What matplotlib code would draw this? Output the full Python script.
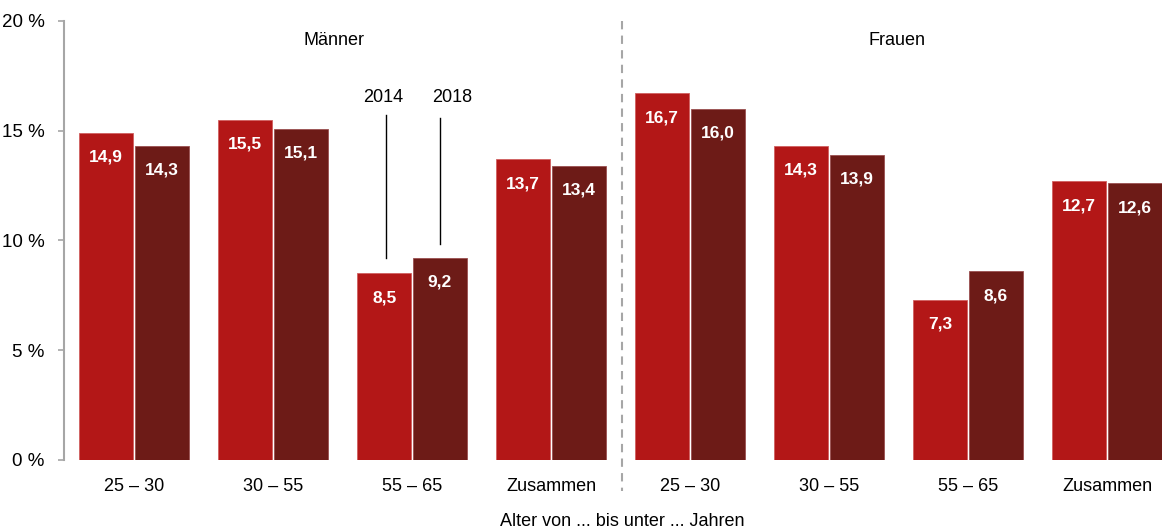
import matplotlib
matplotlib.use("Agg")
import matplotlib.pyplot as plt
import numpy as np

# ---------------------------------------------------------------------------
# Data
# ---------------------------------------------------------------------------
categories = ["25 – 30", "30 – 55", "55 – 65", "Zusammen",
              "25 – 30", "30 – 55", "55 – 65", "Zusammen"]
values_2014 = [14.9, 15.5, 8.5, 13.7, 16.7, 14.3, 7.3, 12.7]
values_2018 = [14.3, 15.1, 9.2, 13.4, 16.0, 13.9, 8.6, 12.6]
yticks = [0, 5, 10, 15, 20]
ytick_labels = ["0 %", "5 %", "10 %", "15 %", "20 %"]
group_titles = ["Männer", "Frauen"]
year_labels = ["2014", "2018"]

COLOR_2014 = "#B31717"
COLOR_2018 = "#6D1B17"
BAR_WIDTH = 0.39
OFFSET = 0.2

plt.rcParams["font.family"] = ["Liberation Sans", "DejaVu Sans"]

fig = plt.figure(figsize=(11.62, 5.32), dpi=100)
ax = fig.add_axes([64 / 1162, 72 / 532, 1 - 64 / 1162, 439 / 532])

x = np.arange(len(categories))
b1 = ax.bar(x - OFFSET, values_2014, width=BAR_WIDTH, color=COLOR_2014,
            edgecolor="#D06060", linewidth=0.6, zorder=2)
b2 = ax.bar(x + OFFSET, values_2018, width=BAR_WIDTH, color=COLOR_2018,
            edgecolor="#9A5050", linewidth=0.6, zorder=2)

# value labels inside the bars
for bars, vals in ((b1, values_2014), (b2, values_2018)):
    for rect, v in zip(bars, vals):
        ax.annotate(f"{v:.1f}".replace(".", ","),
                    (rect.get_x() + rect.get_width() / 2, v),
                    xytext=(0, -17.5), textcoords="offset points",
                    ha="center", va="center", color="white",
                    fontsize=12.5, fontweight="bold", zorder=3)

ax.set_xlim(-0.504, 7.396)
ax.set_ylim(0, 20)
ax.set_xticks(x)
ax.set_xticklabels(categories, fontsize=13)
ax.set_yticks(yticks)
ax.set_yticklabels(ytick_labels, fontsize=13.5)
ax.tick_params(axis="x", length=0, pad=13)
ax.tick_params(axis="y", length=4, width=1.2, color="#A6A6A6", pad=10)

for s in ("top", "right", "bottom"):
    ax.spines[s].set_visible(False)
ax.spines["left"].set_color("#A6A6A6")
ax.spines["left"].set_linewidth(1.5)

# divider between Männer and Frauen
ax.plot([3.51, 3.51], [20, -1.4], color="#A6A6A6", linestyle=(0, (4, 3)),
        linewidth=1.5, clip_on=False, zorder=1)

# group titles
ax.text(1.44, 19.1, group_titles[0], ha="center", va="center", fontsize=13)
ax.text(5.49, 19.1, group_titles[1], ha="center", va="center", fontsize=13)

# year callouts above the 55 – 65 Männer group
ax.text(2 - OFFSET - 0.01, 16.5, year_labels[0], ha="center", va="center",
        fontsize=13)
ax.text(2 + OFFSET + 0.09, 16.5, year_labels[1], ha="center", va="center",
        fontsize=13)
ax.plot([2 - OFFSET + 0.01] * 2, [values_2014[2] + 0.7, 15.7],
        color="black", linewidth=1.0, zorder=3)
ax.plot([2 + OFFSET] * 2, [values_2018[2] + 0.65, 15.6],
        color="black", linewidth=1.0, zorder=3)

fig.text(622 / 1162, (532 - 521) / 532, "Alter von ... bis unter ... Jahren",
         ha="center", va="center", fontsize=13)

fig.savefig("out.png", dpi=100)
